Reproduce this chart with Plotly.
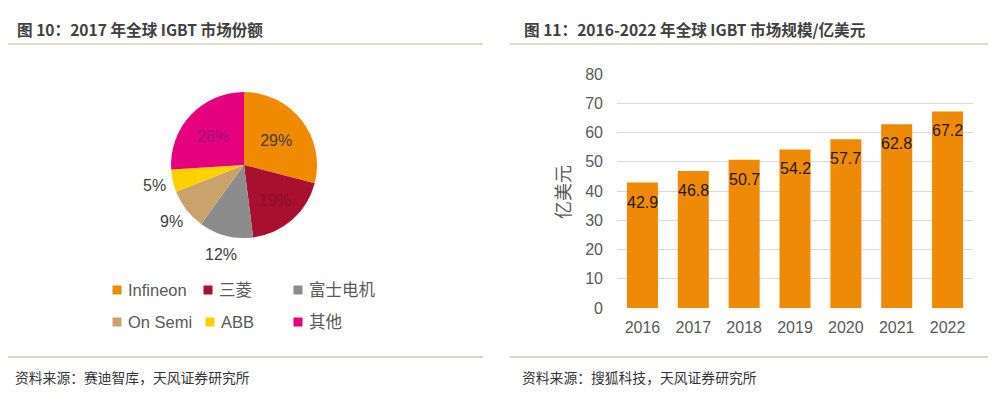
import math
import plotly.graph_objects as go

# ---------------- data ----------------
pie_labels = ["Infineon", "三菱", "富士电机", "On Semi", "ABB", "其他"]
pie_values = [29, 19, 12, 9, 5, 26]
pie_colors = ["#F08A00", "#A8102F", "#8C8C8C", "#C9A26C", "#FFD000", "#E5007E"]
pie_text_colors = ["#404040", "#8E0C2C", "#404040", "#404040", "#404040", "#A2107A"]
pie_label_inside = [True, True, False, False, False, True]

years = ["2016", "2017", "2018", "2019", "2020", "2021", "2022"]
market = [42.9, 46.8, 50.7, 54.2, 57.7, 62.8, 67.2]
y_ticks = [0, 10, 20, 30, 40, 50, 60, 70, 80]

title_left = "图 10：2017 年全球 IGBT 市场份额"
title_right = "图 11：2016-2022 年全球 IGBT 市场规模/亿美元"
source_left = "资料来源：赛迪智库，天风证券研究所"
source_right = "资料来源：搜狐科技，天风证券研究所"
y_title = "亿美元"

# ---------------- layout helpers ----------------
# the page body has an 8px margin, so the figure is drawn 8px in from the corner
OFF = 8
W, H = 996 - OFF, 397 - OFF
def px(x):
    return (x - OFF) / W
def py(y):
    return 1 - (y - OFF) / H

FONT = "Liberation Sans, Arial, Noto Sans CJK SC, sans-serif"
CJK = "Noto Sans CJK SC, Liberation Sans, sans-serif"
GREY = "#595959"
BAR_COLOR = "#EE8A05"

fig = go.Figure()

# Pie
cx, cy, r = 244, 165, 73
fig.add_trace(go.Pie(
    labels=pie_labels, values=pie_values, sort=False,
    direction="clockwise", rotation=0,
    marker=dict(colors=pie_colors, line=dict(width=0)),
    textinfo="percent", texttemplate="%{percent:.0%}",
    textposition=["inside" if ins else "none" for ins in pie_label_inside],
    textfont=dict(family=FONT, size=16, color=pie_text_colors),
    insidetextorientation="horizontal",
    domain=dict(x=[px(cx - r), px(cx + r)], y=[py(cy + r), py(cy - r)]),
    showlegend=False, hoverinfo="label+percent", automargin=False,
))

# Bar
fig.add_trace(go.Bar(
    x=years, y=market, marker=dict(color=BAR_COLOR, line=dict(width=0)),
    showlegend=False, xaxis="x", yaxis="y",
))

annotations = []
# outside pie labels, placed a little away from the rim along each slice's mid-angle
total = sum(pie_values)
cum = 0
LABEL_R = r + 19
for v, ins in zip(pie_values, pie_label_inside):
    theta = 2 * math.pi * (cum + v / 2) / total
    cum += v
    if ins:
        continue
    lx = cx + LABEL_R * math.sin(theta)
    ly = cy - LABEL_R * math.cos(theta)
    annotations.append(dict(x=px(lx), y=py(ly), xref="paper", yref="paper",
                            text=f"{round(100 * v / total)}%", showarrow=False,
                            xanchor="center", yanchor="middle",
                            font=dict(family=FONT, size=16, color="#404040")))

# bar value labels (x given as category index)
for i, v in enumerate(market):
    annotations.append(dict(
        x=i, y=v, xref="x", yref="y", text=f"{v:.1f}", showarrow=False,
        yanchor="top", yshift=-9, font=dict(family=FONT, size=16, color="#1E1A16"),
    ))

# titles
annotations.append(dict(x=px(15), y=py(29), xref="paper", yref="paper", text=f"<b>{title_left}</b>",
                        showarrow=False, xanchor="left", yanchor="middle",
                        font=dict(family=CJK, size=15.6, color="#404040")))
annotations.append(dict(x=px(522), y=py(29), xref="paper", yref="paper", text=f"<b>{title_right}</b>",
                        showarrow=False, xanchor="left", yanchor="middle",
                        font=dict(family=CJK, size=15.6, color="#404040")))
# sources
annotations.append(dict(x=px(13), y=py(377), xref="paper", yref="paper", text=source_left,
                        showarrow=False, xanchor="left", yanchor="middle",
                        font=dict(family=CJK, size=13.8, color="#333333")))
annotations.append(dict(x=px(520), y=py(377), xref="paper", yref="paper", text=source_right,
                        showarrow=False, xanchor="left", yanchor="middle",
                        font=dict(family=CJK, size=13.8, color="#333333")))
# y axis title
annotations.append(dict(x=px(562), y=py(192), xref="paper", yref="paper", text=y_title,
                        showarrow=False, textangle=-90, xanchor="center", yanchor="middle",
                        font=dict(family=CJK, size=18, color=GREY)))

# manual pie legend (3 columns x 2 rows)
col_x = [117, 208, 298]
row_y = [290, 322]
shapes = []
for i, (lab, col) in enumerate(zip(pie_labels, pie_colors)):
    cxm = col_x[i % 3] + (2 if i == 4 else 0)
    rym = row_y[i // 3]
    shapes.append(dict(type="rect", xref="paper", yref="paper",
                       x0=px(cxm - 4.5), x1=px(cxm + 4.5), y0=py(rym + 4.5), y1=py(rym - 4.5),
                       fillcolor=col, line=dict(width=0)))
    annotations.append(dict(x=px(cxm + 9), y=py(rym), xref="paper", yref="paper", text=lab,
                            showarrow=False, xanchor="left", yanchor="middle",
                            font=dict(family=FONT, size=16.5, color=GREY)))

# separator lines
for x0, x1 in [(OFF, 483), (510, 996)]:
    shapes.append(dict(type="line", xref="paper", yref="paper", x0=px(x0), x1=px(x1),
                       y0=py(44), y1=py(44), line=dict(color="#C9B68C", width=1.2)))
    shapes.append(dict(type="line", xref="paper", yref="paper", x0=px(x0), x1=px(x1),
                       y0=py(357), y1=py(357), line=dict(color="#B8A88A", width=1.2)))

fig.update_layout(
    template="none",
    width=W, height=H, margin=dict(l=0, r=0, t=0, b=0, pad=0, autoexpand=False),
    paper_bgcolor="white", plot_bgcolor="white",
    bargap=0.39,
    xaxis=dict(type="category", range=[-0.5, len(years) - 0.5], domain=[px(617), px(973)],
               showgrid=False, showline=False, zeroline=False, automargin=False,
               tickfont=dict(family=FONT, size=16, color=GREY), ticks="", ticklabelstandoff=8,
               fixedrange=True),
    yaxis=dict(domain=[py(308), py(74)], range=[0, 80], tickvals=y_ticks, automargin=False,
               showgrid=True, gridcolor="#D9D9D9", gridwidth=1.3, zeroline=False, showline=False,
               tickfont=dict(family=FONT, size=16, color=GREY), ticks="", ticklabelstandoff=13,
               fixedrange=True),
    annotations=annotations, shapes=shapes,
    font=dict(family=FONT),
    showlegend=False,
)

fig.write_html("out.html")
